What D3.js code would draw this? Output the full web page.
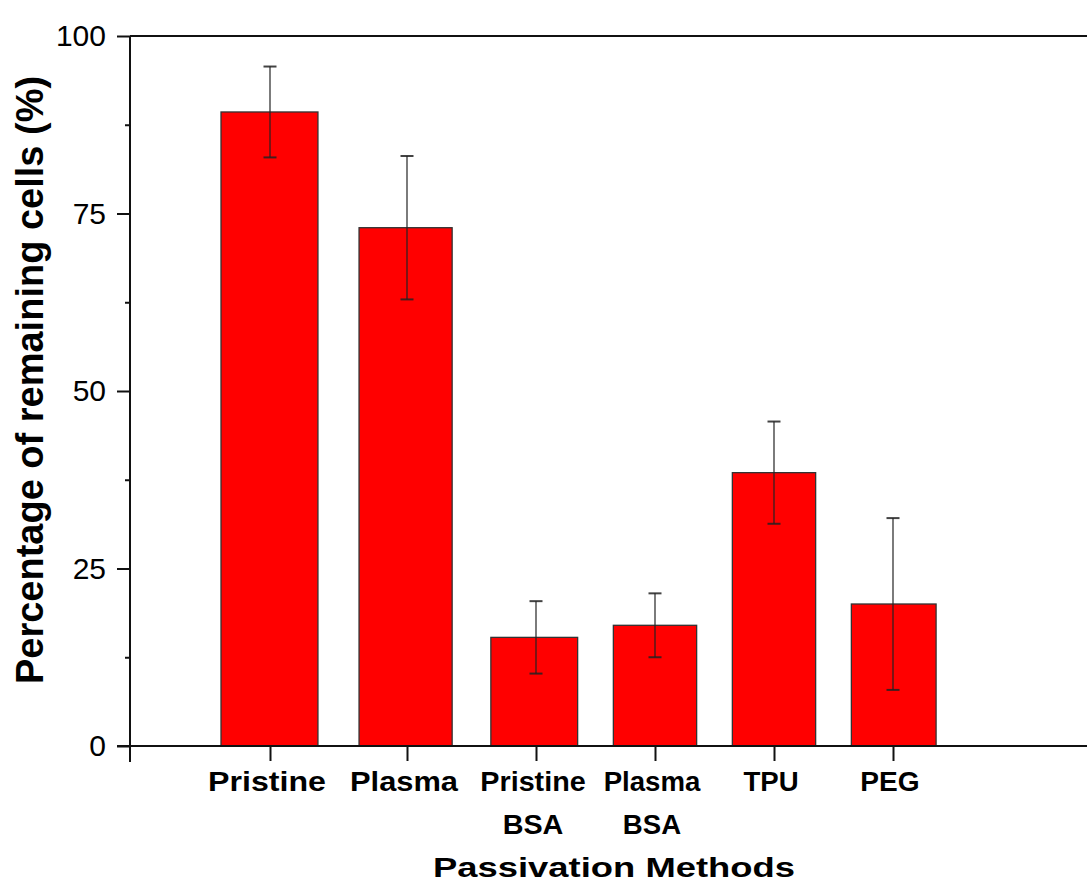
<!DOCTYPE html>
<html>
<head>
<meta charset="utf-8">
<script src="https://cdn.jsdelivr.net/npm/d3@7"></script>
<style>
  html, body { margin: 0; padding: 0; background: #fff; }
  svg { display: block; }
  text { font-family: "Liberation Sans", Arial, sans-serif; fill: #000; }
</style>
</head>
<body>
<svg id="chart" width="1087" height="884"></svg>
<script>
// ---- data ----
const categories = [["Pristine"], ["Plasma"], ["Pristine", "BSA"], ["Plasma", "BSA"], ["TPU"], ["PEG"]];
const means = [89.3, 73.0, 15.3, 17.0, 38.5, 20.0];
const errors = [6.4, 10.1, 5.1, 4.5, 7.2, 12.1];
const yTicks = [0, 25, 50, 75, 100];
const yMinorTicks = [12.5, 37.5, 62.5, 87.5];
const yTitle = "Percentage of remaining cells (%)";
const xTitle = "Passivation Methods";

// ---- layout ----
const svg = d3.select("#chart");
const W = 1087, H = 884;
svg.append("rect").attr("width", W).attr("height", H).attr("fill", "#fff");

const y = d3.scaleLinear().domain([0, 100]).range([746, 36]);
// category index -> pixel (the figure is horizontally stretched unevenly)
const x = d3.scaleLinear()
  .domain([-1, 0, 1, 2, 3, 4, 5, 6.6])
  .range([130, 270, 407, 536, 655, 774, 893, 1090]);
const idx = d3.range(categories.length);
const halfBar = 0.35;

// bars
svg.append("g").selectAll("rect").data(idx).join("rect")
  .attr("x", i => x(i - halfBar))
  .attr("width", i => x(i + halfBar) - x(i - halfBar))
  .attr("y", i => y(means[i]))
  .attr("height", i => y(0) - y(means[i]))
  .attr("fill", "#ff0000")
  .attr("stroke", "#333")
  .attr("stroke-width", 1.3);

// error bars
const eb = svg.append("g").attr("stroke", "#222").attr("stroke-width", 1.4).attr("stroke-opacity", 0.85);
idx.forEach(i => {
  const cx = x(i);
  const top = y(means[i] + errors[i]), bot = y(means[i] - errors[i]);
  eb.append("line").attr("x1", cx).attr("x2", cx).attr("y1", top).attr("y2", bot);
  eb.append("line").attr("x1", cx - 6.5).attr("x2", cx + 6.5).attr("y1", top).attr("y2", top).attr("stroke-width", 2);
  eb.append("line").attr("x1", cx - 6.5).attr("x2", cx + 6.5).attr("y1", bot).attr("y2", bot).attr("stroke-width", 2);
});

// y axis
const yAxis = d3.axisLeft(y).tickValues(yTicks).tickSize(13).tickPadding(11).tickFormat(d3.format("d"));
const gy = svg.append("g").attr("transform", `translate(${x(-1)},0)`).call(yAxis);
gy.select(".domain").remove();
gy.selectAll(".tick line").attr("stroke", "#111").attr("stroke-width", 2);
gy.selectAll(".tick text").attr("font-size", 30).attr("font-family", "Liberation Sans, Arial, sans-serif").attr("fill", "#111");
const gyMinor = svg.append("g").attr("transform", `translate(${x(-1)},0)`)
  .call(d3.axisLeft(y).tickValues(yMinorTicks).tickSize(5).tickFormat(""));
gyMinor.select(".domain").remove();
gyMinor.selectAll(".tick line").attr("stroke", "#111").attr("stroke-width", 2);

// x axis (category ticks)
const xAxis = d3.axisBottom(x).tickValues(idx).tickSize(15).tickFormat("");
const gx = svg.append("g").attr("transform", `translate(0,${y(0)})`).call(xAxis);
gx.select(".domain").remove();
gx.selectAll(".tick line").attr("stroke", "#111").attr("stroke-width", 2);

// frame lines
const frame = svg.append("g").attr("stroke", "#111").attr("stroke-width", 2).attr("fill", "none");
frame.append("line").attr("x1", x(-1)).attr("x2", x(-1)).attr("y1", y(100)).attr("y2", y(0) + 16);
frame.append("line").attr("x1", x(-1) - 13).attr("x2", W + 5).attr("y1", y(0)).attr("y2", y(0));
frame.append("line").attr("x1", x(-1)).attr("x2", W + 5).attr("y1", y(100)).attr("y2", y(100));

// category labels
const refStep = x(5.5) - x(4.5);
idx.forEach(i => {
  const k = Math.max(1, (x(i + 0.5) - x(i - 0.5)) / refStep * 1.04);
  categories[i].forEach((line, j) => {
    svg.append("text")
      .attr("transform", `translate(${x(i) - 3},${791 + j * 43}) scale(${k},1)`)
      .attr("text-anchor", "middle")
      .attr("font-size", 27)
      .attr("font-weight", "bold")
      .attr("fill", "#111")
      .text(line);
  });
});

// axis titles
svg.append("text")
  .attr("transform", `translate(614,877) scale(1.3,1)`)
  .attr("text-anchor", "middle")
  .attr("font-size", 28)
  .attr("font-weight", "bold")
  .attr("fill", "#111")
  .text(xTitle);

svg.append("text")
  .attr("transform", `translate(43,380) rotate(-90)`)
  .attr("text-anchor", "middle")
  .attr("font-size", 38)
  .attr("font-weight", "bold")
  .attr("fill", "#111")
  .text(yTitle);
</script>
</body>
</html>
